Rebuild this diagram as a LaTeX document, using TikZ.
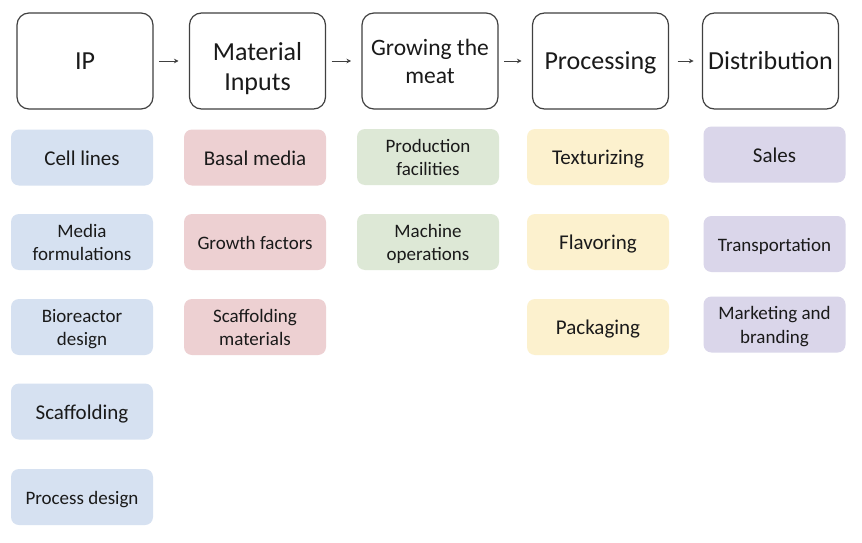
\documentclass[tikz,border=0pt]{standalone}
\usepackage{fontspec}
\setmainfont{Carlito}
\usetikzlibrary{arrows.meta}
\definecolor{hdrline}{HTML}{404040}
\definecolor{txt}{HTML}{1A1A1A}
\definecolor{cblue}{HTML}{D6E1F1}
\definecolor{cred}{HTML}{EDD0D2}
\definecolor{cgreen}{HTML}{DDE8D6}
\definecolor{cyellow}{HTML}{FCF1CE}
\definecolor{cpurple}{HTML}{DAD6EA}
\tikzset{
  hdr/.style={draw=hdrline, line width=1.2pt, rounded corners=12pt, fill=white,
    minimum width=136pt, minimum height=96pt, inner sep=0pt, outer sep=0pt,
    text height=24pt, text depth=6pt,
    align=center, text=txt, font=\fontsize{26}{30}\selectfont},
  item/.style={rounded corners=8pt, minimum width=142pt, minimum height=56pt,
    inner sep=0pt, outer sep=0pt, align=center, text=txt,
    text height=14pt, text depth=0pt,
    font=\fontsize{19}{23.5}\selectfont},
  two/.style={text height=37.5pt, text depth=0pt},
  big/.style={font=\fontsize{21}{25}\selectfont, text height=15pt, text depth=0pt},
  flow/.style={draw=hdrline, line width=0.9pt, -{Stealth[length=4.5pt,width=4.5pt]},
    shorten <=6pt, shorten >=11pt},
}
\begin{document}
\begin{tikzpicture}[x=1pt,y=-1pt]
\useasboundingbox[fill=white] (0,0) rectangle (862,543);
% header boxes
\node[hdr] (ip) at (85,61) {IP};
\node[hdr, text height=59pt, text depth=1pt] (mat) at (257.5,61) {Material\\Inputs};
\node[hdr, font=\fontsize{23.5}{28}\selectfont, text height=50pt, text depth=6pt] (grow) at (430,61) {Growing the\\meat};
\node[hdr] (proc) at (600.5,61) {Processing};
\node[hdr] (dist) at (770.5,61) {Distribution};
\draw[flow] (ip.east) -- (mat.west);
\draw[flow] (mat.east) -- (grow.west);
\draw[flow] (grow.east) -- (proc.west);
\draw[flow, shorten <=9pt, shorten >=9pt] (proc.east) -- (dist.west);
% IP column
\node[item, big, fill=cblue] (b1) at (82,157.5) {Cell lines};
\node[item, two, fill=cblue] (b2) at (82,242) {Media\\formulations};
\node[item, two, fill=cblue] (b3) at (82,327) {Bioreactor\\design};
\node[item, big, fill=cblue] (b4) at (82,411.5) {Scaffolding};
\node[item, fill=cblue] (b5) at (82,497) {Process design};
% Material inputs column
\node[item, big, fill=cred] (r1) at (255,157.5) {Basal media};
\node[item, fill=cred] (r2) at (255,242) {Growth factors};
\node[item, two, fill=cred] (r3) at (255,327) {Scaffolding\\materials};
% Growing column
\node[item, two, fill=cgreen] (g1) at (428,157) {Production\\facilities};
\node[item, two, fill=cgreen] (g2) at (428,242) {Machine\\operations};
% Processing column
\node[item, big, fill=cyellow] (y1) at (598,157) {Texturizing};
\node[item, big, fill=cyellow] (y2) at (598,242) {Flavoring};
\node[item, big, fill=cyellow] (y3) at (598,327) {Packaging};
% Distribution column
\node[item, big, fill=cpurple] (p1) at (774.5,154.5) {Sales};
\node[item, fill=cpurple] (p2) at (774.5,244) {Transportation};
\node[item, two, fill=cpurple] (p3) at (774.5,324.5) {Marketing and\\branding};
\end{tikzpicture}
\end{document}
